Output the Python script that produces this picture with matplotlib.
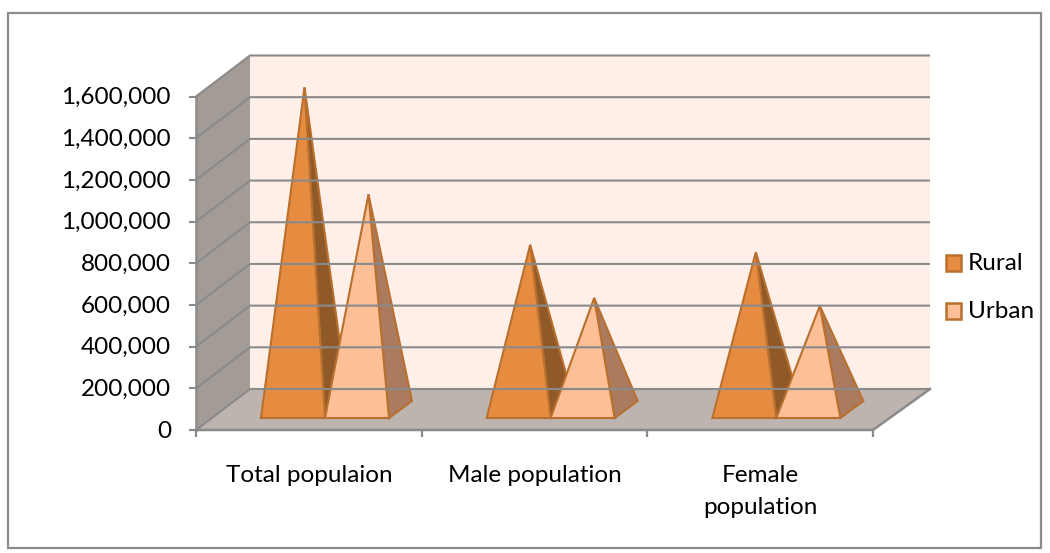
import matplotlib
matplotlib.use('Agg')
import matplotlib.pyplot as plt
from matplotlib.patches import Polygon, Rectangle

plt.rcParams['font.family'] = ['Lato', 'DejaVu Sans']

categories = ['Total populaion', 'Male population', 'Female\npopulation']
rural = [1545000, 790000, 755000]
urban = [1032000, 535000, 497000]
ticks = [0, 200000, 400000, 600000, 800000, 1000000, 1200000, 1400000, 1600000]

# hand-fitted geometry of the oblique 3d box, in image pixels
x0, x1, y0 = 196, 873, 430
dx, dy = 54, -41
px_per_unit = 333.5 / 1600000
slot = (x1 - x0) / len(categories)
bar_w = 64
FS = 17.5

WALL = '#fef0e8'
SIDE = '#a39b96'
FLOOR = '#bdb4b0'
LINE = '#8a8a8a'
EDGE = '#b96f2d'


def vy(v):
    return y0 - v * px_per_unit


fig = plt.figure(figsize=(10.5, 5.53), dpi=100)
ax = fig.add_axes([0, 0, 1, 1])
ax.set_xlim(0, 1050)
ax.set_ylim(553, 0)
ax.axis('off')

ax.add_patch(Rectangle((8, 13), 1033, 535, fc='white', ec='#8c8c8c', lw=1.6))

# walls and floor
top = vy(ticks[-1])
ax.add_patch(Polygon([(x0 + dx, y0 + dy), (x1 + dx + 3, y0 + dy), (x1 + dx + 3, top + dy), (x0 + dx, top + dy)], fc=WALL, ec='none'))
ax.add_patch(Polygon([(x0, y0), (x0 + dx, y0 + dy), (x0 + dx, top + dy), (x0, top)], fc=SIDE, ec='none'))
ax.add_patch(Polygon([(x0, y0), (x1, y0), (x1 + dx + 3, y0 + dy), (x0 + dx, y0 + dy)], fc=FLOOR, ec='none'))

# gridlines across both walls, ticks on the front edge
for t in ticks:
    y = vy(t)
    ax.plot([x0, x0 + dx, x1 + dx + 3], [y, y + dy, y + dy], color=LINE, lw=1.5, solid_capstyle='butt')
    ax.plot([x0 - 7, x0], [y, y], color=LINE, lw=1.5, solid_capstyle='butt')
    ax.text(x0 - 25, y + 1, f'{t:,}', ha='right', va='center', fontsize=FS, color='black')

ax.plot([x0, x0], [y0, top], color=LINE, lw=1.8)
ax.plot([x0, x1, x1 + dx + 3], [y0, y0, y0 + dy], color=LINE, lw=1.8)
for i in range(len(categories) + 1):
    xt = x0 + i * slot
    ax.plot([xt, xt], [y0, y0 + 7], color=LINE, lw=1.6, solid_capstyle='butt')

# pyramids
base_y = 418
dep_x, dep_y = 23, -17


def pyramid(left, value, front, side):
    right = left + bar_w
    cx = left + bar_w / 2 + dep_x / 2
    cy = base_y + dep_y / 2
    apex = (cx, cy - value * px_per_unit)
    ax.add_patch(Polygon([(right, base_y), (right + dep_x, base_y + dep_y), apex], fc=side, ec=EDGE, lw=1.5, joinstyle='miter'))
    ax.add_patch(Polygon([(left, base_y), (right, base_y), apex], fc=front, ec=EDGE, lw=1.5, joinstyle='miter'))


for i, (r, u) in enumerate(zip(rural, urban)):
    start = x0 + 65 + i * slot
    pyramid(start, r, '#e68c41', '#8f5a28')
    pyramid(start + bar_w, u, '#fdbf95', '#ab7b60')

# category labels
for i, c in enumerate(categories):
    ax.text(x0 + (i + 0.5) * slot, 465, c, ha='center', va='top', fontsize=FS, linespacing=1.62, color='black')

# legend
for y, name, col in [(263, 'Rural', '#e68c41'), (311, 'Urban', '#fdbf95')]:
    ax.add_patch(Rectangle((946, y - 8), 15, 16, fc=col, ec=EDGE, lw=1.8))
    ax.text(968, y, name, ha='left', va='center', fontsize=FS, color='black')

fig.savefig('out.png', dpi=100)
